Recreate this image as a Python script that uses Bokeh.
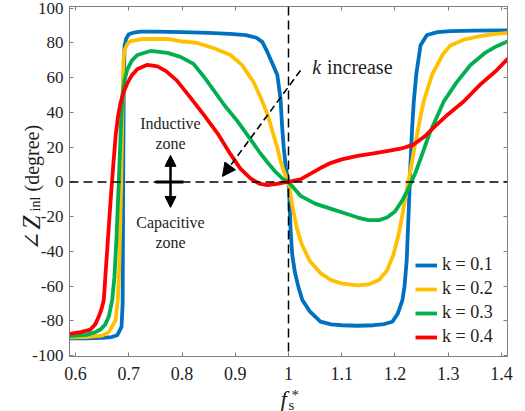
import math
from bokeh.plotting import figure
from bokeh.models import (Range1d, FixedTicker, LinearAxis, Span, Arrow, NormalHead,
                          Label, Legend, LegendItem, CustomJSTickFormatter, GridBox)
from bokeh.embed import file_html
from bokeh.resources import INLINE

# ---------------- data ----------------
x_ticks = [0.6, 0.7, 0.8, 0.9, 1.0, 1.1, 1.2, 1.3, 1.4]
x_tick_labels = ["0.6", "0.7", "0.8", "0.9", "1", "1.1", "1.2", "1.3", "1.4"]
y_ticks = [-100, -80, -60, -40, -20, 0, 20, 40, 60, 80, 100]
y_tick_labels = ["-100", "-80", "-60", "-40", "-20", "0", "20", "40", "60", "80", "100"]

k_labels = ["k = 0.1", "k = 0.2", "k = 0.3", "k = 0.4"]
colors = ["#0070C0", "#FFC000", "#00B050", "#FF0000"]

x_k01 = [0.589, 0.62, 0.65, 0.668, 0.6783, 0.6864, 0.6885, 0.6895, 0.6905, 0.692, 0.695, 0.700,
         0.71, 0.722, 0.75, 0.80, 0.85, 0.89, 0.92, 0.94, 0.951, 0.96, 0.97, 0.979, 0.985, 0.988,
         0.991, 0.995, 1.0, 1.002, 1.004, 1.007, 1.012, 1.019, 1.026, 1.04, 1.06, 1.08, 1.10,
         1.13, 1.16, 1.18, 1.195, 1.205, 1.214, 1.218, 1.222, 1.226, 1.229, 1.232, 1.2353, 1.24,
         1.248, 1.26, 1.28, 1.304, 1.35, 1.412]
y_k01 = [-90, -90, -89.8, -89.3, -88.3, -83.5, -70, 0, 50, 78, 82.5, 85,
         86, 86.5, 86.5, 86.3, 85.8, 85.2, 84.5, 83, 80.5, 75, 68, 61.5, 48, 32,
         20, 8, 0, -12, -28, -42, -52, -61, -68, -74.5, -80.4, -82, -82.5,
         -82.8, -82.5, -81.8, -80.5, -76, -68, -60, -45, -15, 10, 30, 46.3, 62,
         78.7, 84.6, 86.2, 86.8, 87.1, 87.3]

x_k02 = [0.589, 0.62, 0.65, 0.6625, 0.6751, 0.6794, 0.682, 0.684, 0.6858, 0.6875, 0.689, 0.6901,
         0.692, 0.6975, 0.7033, 0.7277, 0.7727, 0.797, 0.829, 0.86, 0.891, 0.912, 0.934, 0.948,
         0.9605, 0.97, 0.9793, 0.985, 0.992, 1.0, 1.004, 1.01, 1.016, 1.025, 1.04, 1.06, 1.08,
         1.10, 1.13, 1.15, 1.17, 1.185, 1.197, 1.207, 1.215, 1.222, 1.228, 1.235, 1.245, 1.254,
         1.27, 1.29, 1.304, 1.33, 1.36, 1.39, 1.412]
y_k02 = [-89.5, -89.3, -88.5, -86.5, -79.7, -68.2, -50, -25, 0, 30, 58, 70,
         75.6, 79.5, 81, 82.3, 82.3, 81, 80, 77, 73.1, 67.5, 57.7, 48.5,
         38.9, 29, 19.4, 12, 5.5, 0, -8, -18, -27, -36, -45.5, -52.5, -56.5,
         -58.5, -59.5, -59, -56.5, -51, -42, -30, -17, -5, 5, 17, 33, 46.5,
         62, 73.5, 78.5, 82, 84, 85.3, 85.8]

x_k03 = [0.589, 0.62, 0.635, 0.6469, 0.656, 0.6625, 0.6689, 0.673, 0.677, 0.6813, 0.685, 0.6882,
         0.692, 0.6976, 0.706, 0.7164, 0.7408, 0.7727, 0.797, 0.8216, 0.84, 0.859, 0.88, 0.904,
         0.923, 0.947, 0.96, 0.975, 0.99, 1.0, 1.0225, 1.05, 1.08, 1.11, 1.13, 1.15, 1.17, 1.185,
         1.2, 1.213, 1.225, 1.238, 1.25, 1.265, 1.2916, 1.315, 1.3418, 1.37, 1.39, 1.412]
y_k03 = [-88.8, -88, -86.8, -85, -82, -77.5, -68, -55, -32, 0, 30, 50,
         58.5, 65, 70, 73.1, 75.4, 74.3, 72, 68, 61, 53, 44, 35,
         27, 16.5, 11.5, 6, 1.5, 0, -8, -12.5, -15.5, -18.5, -20.5, -22, -22, -20.5,
         -17, -11, -4, 5, 15, 28, 46.3, 57, 67.3, 74.5, 78, 81]

x_k04 = [0.589, 0.61, 0.6281, 0.637, 0.6437, 0.649, 0.6531, 0.6575, 0.662, 0.6665, 0.671, 0.6755,
         0.68, 0.6845, 0.69, 0.6976, 0.706, 0.7164, 0.7352, 0.754, 0.77, 0.79, 0.8159, 0.8403,
         0.8667, 0.891, 0.91, 0.9286, 0.945, 0.96, 0.975, 0.99, 1.0, 1.0225, 1.04, 1.06, 1.08,
         1.10, 1.13, 1.16, 1.19, 1.215, 1.235, 1.255, 1.275, 1.30, 1.329, 1.36, 1.39, 1.412]
y_k04 = [-87.5, -86.5, -85, -82, -77.5, -73, -68, -48, -28, -8, 10, 27,
         38, 45.5, 51.5, 57, 61.5, 65, 67.4, 66.5, 63.8, 58.5, 48.5, 38.9,
         28, 16, 7.5, 2, -1, -1.8, -1.3, -0.4, 0, 1.5, 4.5, 8, 11,
         13, 15, 16.5, 18, 19.5, 21.5, 26, 32, 39, 46.3, 56, 64, 71]

series_x = [x_k01, x_k02, x_k03, x_k04]
series_y = [y_k01, y_k02, y_k03, y_k04]

# ---------------- main figure ----------------
W, H = 525, 411
AX = "#7f7f7f"
TXT = "#1e1e1e"
SERIF = "Liberation Serif"

p = figure(width=W, height=H, x_range=Range1d(0.5887, 1.4113), y_range=Range1d(-100.5, 101),
           output_backend="svg", toolbar_location=None,
           min_border_left=69, min_border_right=18, min_border_top=6, min_border_bottom=55)
p.frame_align = False
p.background_fill_color = "white"
p.border_fill_color = "white"
p.grid.visible = False
p.outline_line_color = AX

p.xaxis.ticker = FixedTicker(ticks=x_ticks)
p.xaxis.major_label_overrides = dict(zip(x_ticks, x_tick_labels))
p.yaxis.ticker = FixedTicker(ticks=y_ticks)
p.yaxis.major_label_overrides = dict(zip(y_ticks, y_tick_labels))
for ax in (p.xaxis, p.yaxis):
    ax.major_tick_in = 4
    ax.major_tick_out = 0
    ax.minor_tick_line_color = None
    ax.axis_line_color = AX
    ax.major_tick_line_color = AX
    ax.major_label_text_font = SERIF
    ax.major_label_text_color = TXT
p.xaxis.major_label_text_font_size = "18px"
p.yaxis.major_label_text_font_size = "17px"
p.xaxis.major_label_standoff = 10
p.yaxis.major_label_standoff = 6

blank = CustomJSTickFormatter(code="return ''")
top_axis = LinearAxis(ticker=FixedTicker(ticks=x_ticks), formatter=blank, major_tick_in=4,
                      major_tick_out=0, minor_tick_line_color=None, axis_line_color=AX,
                      major_tick_line_color=AX, major_label_standoff=0)
right_axis = LinearAxis(ticker=FixedTicker(ticks=y_ticks), formatter=blank, major_tick_in=4,
                        major_tick_out=0, minor_tick_line_color=None, axis_line_color=AX,
                        major_tick_line_color=AX, major_label_standoff=0)
p.add_layout(top_axis, "above")
p.add_layout(right_axis, "right")

# dashed reference lines
p.add_layout(Span(location=0, dimension="width", line_color="black", line_dash="9 5", line_width=1.5))
p.add_layout(Span(location=1.0, dimension="height", line_color="black", line_dash="9 5", line_width=1.5))

renderers = []
for xs, ys, c in zip(series_x, series_y, colors):
    renderers.append(p.line(xs, ys, line_color=c, line_width=3.8, line_join="round"))

legend = Legend(items=[LegendItem(label=l, renderers=[r]) for l, r in zip(k_labels, renderers)],
                location=(346, 9), orientation="vertical", glyph_width=22, glyph_height=20,
                label_height=20, spacing=3, padding=0, margin=0, label_standoff=5,
                label_text_font=SERIF, label_text_font_size="18px", label_text_color=TXT,
                border_line_color=None, background_fill_alpha=0)
p.add_layout(legend)

# k increase arrow and text
p.add_layout(Arrow(end=NormalHead(size=13, fill_color="black", line_color="black"),
                   x_start=1.0225, y_start=64.2, x_end=0.876, y_end=3.2,
                   line_color="black", line_dash="7 4", line_width=1.6))
p.add_layout(Label(x=1.0445, y=66.1, text="k", text_font=SERIF, text_font_style="italic",
                   text_font_size="20px", text_color=TXT, text_baseline="alphabetic"))
p.add_layout(Label(x=1.0723, y=66.1, text="increase", text_font=SERIF,
                   text_font_size="20px", text_color=TXT, text_baseline="alphabetic"))

# inductive / capacitive zone marker
ZX = 0.7784
p.add_layout(Arrow(start=NormalHead(size=11, fill_color="black", line_color="black"),
                   end=NormalHead(size=11, fill_color="black", line_color="black"),
                   x_start=ZX, y_start=-14.7, x_end=ZX, y_end=15.3,
                   line_color="black", line_width=2.5))
p.add_layout(Arrow(end=None, x_start=0.7502, y_start=0, x_end=0.8028, y_end=0,
                   line_color="black", line_width=3))
for txt, yy in (("Inductive", 33.9), ("zone", 22.3), ("Capacitive", -23.1), ("zone", -34.7)):
    p.add_layout(Label(x=ZX, y=yy, text=txt, text_font=SERIF, text_font_size="16px",
                       text_color=TXT, text_align="center", text_baseline="middle"))

# ---------------- overlay for axis titles (pixel coordinates, y down) ----------------
ov = figure(width=W, height=H, x_range=Range1d(0, W), y_range=Range1d(H, 0),
            output_backend="svg", toolbar_location=None, x_axis_type=None, y_axis_type=None,
            min_border_left=0, min_border_right=0, min_border_top=0, min_border_bottom=0)
ov.frame_align = False
ov.outline_line_color = None
ov.background_fill_color = None
ov.border_fill_color = None
ov.grid.visible = False

rot = math.pi / 2
def add_text(fig, x, y, text, size, font=SERIF, style="normal", angle=0.0):
    fig.add_layout(Label(x=x, y=y, text=text, text_font=font, text_font_style=style,
                         text_font_size=size, text_color=TXT, angle=angle,
                         text_align="left", text_baseline="alphabetic"))

# y axis title: ∠Z_inl (degree)
add_text(ov, 31, 250, "∠", "23px", font="DejaVu Serif", angle=rot)
add_text(ov, 31, 229, "Z", "25px", style="italic", angle=rot)
add_text(ov, 35, 211, "inl", "14px", angle=rot)
add_text(ov, 31, 191, "(degree)", "20px", angle=rot)
# x axis title: f_s^*
add_text(ov, 280, 399, "f", "23px", style="italic")
add_text(ov, 288, 404, "s", "15px")
add_text(ov, 291, 394, "*", "15px")

layout = GridBox(children=[(p, 0, 0), (ov, 0, 0)])
open("out.html", "w").write(file_html(layout, INLINE))
